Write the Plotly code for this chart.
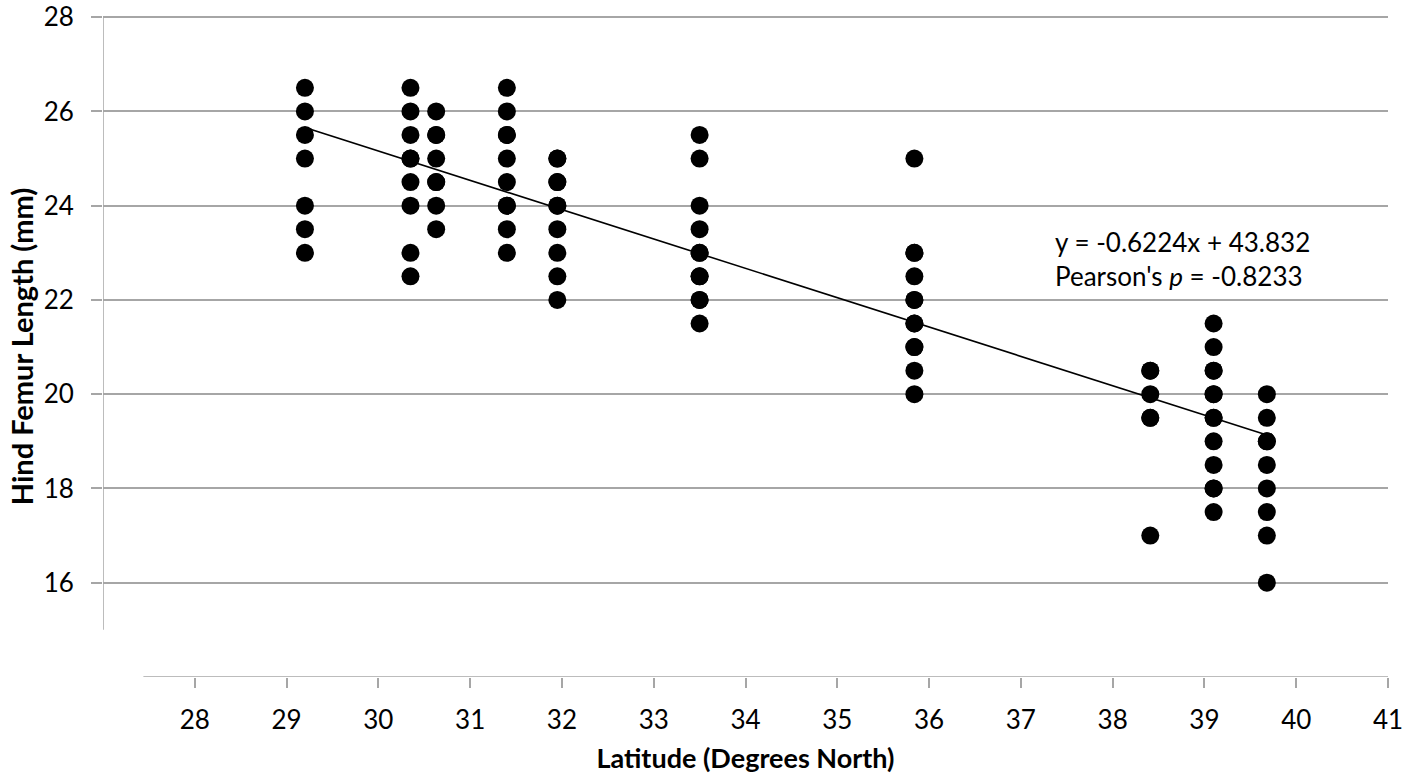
import plotly.graph_objects as go

# Data (latitude columns and hind femur lengths)
lat_29_2 = [26.5, 26, 25.5, 25, 24, 23.5, 23]
lat_30_35 = [26.5, 26, 25.5, 25, 25, 24.5, 24, 23, 22.5]
lat_30_63 = [26, 25.5, 25.5, 25, 24.5, 24.5, 24, 23.5]
lat_31_4 = [26.5, 26, 25.5, 25.5, 25, 24.5, 24, 24, 23.5, 23]
lat_31_95 = [25, 25, 24.5, 24.5, 24, 24, 23.5, 23, 22.5, 22]
lat_33_5 = [25.5, 25, 24, 23.5, 23, 23, 22.5, 22.5, 22, 22, 21.5]
lat_35_84 = [25, 23, 23, 22.5, 22, 22, 21.5, 21.5, 21, 21, 20.5, 20]
lat_38_41 = [20.5, 20.5, 20, 19.5, 19.5, 17]
lat_39_1 = [21.5, 21, 20.5, 20.5, 20, 20, 19.5, 19.5, 19, 18.5, 18, 18, 17.5]
lat_39_68 = [20, 19.5, 19, 19, 18.5, 18, 17.5, 17, 16]

latitudes = [29.2, 30.35, 30.63, 31.4, 31.95, 33.5, 35.84, 38.41, 39.1, 39.68]
lengths = [lat_29_2, lat_30_35, lat_30_63, lat_31_4, lat_31_95,
           lat_33_5, lat_35_84, lat_38_41, lat_39_1, lat_39_68]

slope = -0.6224
intercept = 43.832
pearson = -0.8233

y_ticks = [16, 18, 20, 22, 24, 26, 28]
x_ticks = list(range(28, 42))

xs, ys = [], []
for lat, vals in zip(latitudes, lengths):
    for v in vals:
        xs.append(lat)
        ys.append(v)

x_fit = [min(latitudes), max(latitudes)]
y_fit = [slope * x + intercept for x in x_fit]

FONT = "Lato, 'Open Sans', sans-serif"
GRID = "#a6a6a6"

fig = go.Figure()
fig.add_trace(go.Scatter(x=xs, y=ys, mode="markers",
                         marker=dict(color="black", size=18, line=dict(width=0)),
                         showlegend=False, hoverinfo="x+y"))
fig.add_trace(go.Scatter(x=x_fit, y=y_fit, mode="lines",
                         line=dict(color="black", width=1.6),
                         showlegend=False, hoverinfo="skip"))

# vertical axis line (from 15 to 28) and horizontal axis line
fig.add_shape(type="line", xref="x", yref="y", x0=27, x1=27, y0=15, y1=28,
              line=dict(color=GRID, width=1.5), layer="below")
fig.add_shape(type="line", xref="x", yref="y", x0=27.44, x1=41, y0=14, y1=14,
              line=dict(color=GRID, width=1.5), layer="below")

fig.add_annotation(
    x=37.35, y=22.86, xref="x", yref="y", xanchor="left", yanchor="middle",
    text=f"y = {slope}x + {intercept}<br>Pearson's <i>p</i> = {pearson}",
    showarrow=False, align="left",
    font=dict(family=FONT, size=26, color="black"))

fig.update_layout(
    width=1416, height=774,
    margin=dict(l=103, r=28, t=15.6, b=97, autoexpand=False),
    paper_bgcolor="white", plot_bgcolor="white",
    font=dict(family=FONT, color="black", size=26),
    xaxis=dict(range=[27, 41], tickvals=x_ticks, ticks="outside", ticklen=10,
               tickcolor=GRID, tickwidth=1.5, showgrid=False, zeroline=False,
               showline=False, tickfont=dict(size=26), ticklabelstandoff=10,
               automargin=False, ticklabeloverflow="allow",
               title=dict(text="<b>Latitude (Degrees North)</b>", font=dict(size=27),
                          standoff=14)),
    yaxis=dict(range=[14, 28.024], tickvals=y_ticks, ticks="outside", ticklen=11,
               tickcolor=GRID, tickwidth=1.5, showgrid=True, gridcolor=GRID,
               gridwidth=1.5, zeroline=False, showline=False,
               tickfont=dict(size=26), ticklabelstandoff=12,
               automargin=False, ticklabeloverflow="allow",
               title=dict(text="<b>Hind Femur Length (mm)</b>", font=dict(size=29),
                          standoff=1)),
)

fig.write_html("out.html",
               config={"displayModeBar": False},
               post_script="document.body.style.margin='0';"
                           "document.body.style.overflow='hidden';")
